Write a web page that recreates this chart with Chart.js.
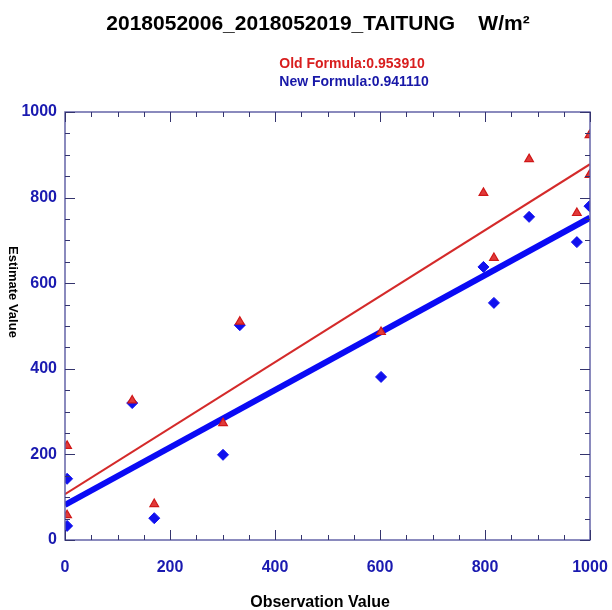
<!DOCTYPE html>
<html>
<head>
<meta charset="utf-8">
<title>TAITUNG estimate vs observation</title>
<script src="https://cdn.jsdelivr.net/npm/chart.js"></script>
<style>
	body { margin: 0; background: #fff; }
</style>
</head>
<body>
<canvas id="chart" width="612" height="610"></canvas>
<script>
// Texts
const chartTitle = '2018052006_2018052019_TAITUNG    W/m²';
const oldLabel = 'Old Formula:0.953910';
const newLabel = 'New Formula:0.941110';
const xTitle = 'Observation Value';
const yTitle = 'Estimate Value';

// Old formula points (red triangles)
const obsOld = [4, 4, 128, 170, 301, 333, 602, 797, 817, 884, 975, 999, 999];
const estOld = [220, 58, 326, 84, 273, 510, 486, 811, 659, 890, 764, 946, 853];
// New formula points (blue diamonds)
const obsNew = [4, 4, 128, 170, 301, 333, 602, 797, 817, 884, 975, 999];
const estNew = [143, 33, 320, 51, 199, 502, 381, 638, 554, 755, 696, 780];
// Fit lines, read at both ends of the axis
const fitX = [0, 1000];
const fitOld = [107, 878];
const fitNew = [82, 753];
const tickValues = [0, 200, 400, 600, 800, 1000];

const FONT = "'Liberation Sans', Arial, sans-serif";
const toXY = (xs, ys) => xs.map((v, i) => ({ x: v, y: ys[i] }));

// frame, inward ticks on all four sides, and the texts
const decor = {
	id: 'decor',
	afterDraw(chart) {
		const { ctx, chartArea: a, scales: { x, y } } = chart;
		ctx.save();
		ctx.strokeStyle = '#6464a8';
		ctx.lineWidth = 1.5;
		ctx.strokeRect(a.left, a.top, a.right - a.left, a.bottom - a.top);

		ctx.strokeStyle = '#34346e';
		ctx.lineWidth = 1;
		ctx.beginPath();
		for (let v = 0; v <= 1000; v += 50) {
			const len = tickValues.includes(v) ? 10 : 5;
			const px = Math.round(x.getPixelForValue(v)) + 0.5;
			const py = Math.round(y.getPixelForValue(v)) + 0.5;
			ctx.moveTo(px, a.bottom); ctx.lineTo(px, a.bottom - len);
			ctx.moveTo(px, a.top); ctx.lineTo(px, a.top + len);
			ctx.moveTo(a.left, py); ctx.lineTo(a.left + len, py);
			ctx.moveTo(a.right, py); ctx.lineTo(a.right - len, py);
		}
		ctx.stroke();

		ctx.textAlign = 'center';
		ctx.textBaseline = 'alphabetic';
		ctx.fillStyle = '#000';
		ctx.font = 'bold 21px ' + FONT;
		ctx.fillText(chartTitle, 318, 30);
		ctx.font = 'bold 14px ' + FONT;
		ctx.fillStyle = '#d81e1e';
		ctx.fillText(oldLabel, 352, 68);
		ctx.fillStyle = '#1818a8';
		ctx.fillText(newLabel, 354, 86);
		ctx.fillStyle = '#000';
		ctx.font = 'bold 16px ' + FONT;
		ctx.fillText(xTitle, 320, 607);

		ctx.translate(13, 292);
		ctx.rotate(Math.PI / 2);
		ctx.textBaseline = 'middle';
		ctx.font = 'bold 13px ' + FONT;
		ctx.fillText(yTitle, 0, 0);
		ctx.restore();
	}
};

const tickFont = { family: FONT, size: 16, weight: 'bold' };

new Chart(document.getElementById('chart'), {
	type: 'scatter',
	data: {
		datasets: [
			{
				label: 'new fit',
				data: toXY(fitX, fitNew),
				showLine: true,
				borderColor: '#0a0af5',
				borderWidth: 6,
				pointRadius: 0,
				clip: 0,
				order: 4
			},
			{
				label: newLabel,
				data: toXY(obsNew, estNew),
				pointStyle: 'rectRot',
				pointRadius: 5.5,
				backgroundColor: '#1010ee',
				borderColor: '#1010ee',
				borderWidth: 1,
				clip: 0,
				order: 3
			},
			{
				label: 'old fit',
				data: toXY(fitX, fitOld),
				showLine: true,
				borderColor: '#d42a2a',
				borderWidth: 2,
				pointRadius: 0,
				clip: 0,
				order: 2
			},
			{
				label: oldLabel,
				data: toXY(obsOld, estOld),
				pointStyle: 'triangle',
				pointRadius: 5,
				backgroundColor: '#e03a3a',
				borderColor: '#d01818',
				borderWidth: 1.2,
				clip: 0,
				order: 1
			}
		]
	},
	options: {
		responsive: false,
		animation: false,
		layout: { padding: { top: 112, right: 22, left: 0, bottom: 0 } },
		plugins: {
			legend: { display: false },
			tooltip: { enabled: false }
		},
		scales: {
			x: {
				type: 'linear',
				min: 0,
				max: 1000,
				afterFit(s) { s.height = 70; s.paddingLeft = 0; s.paddingRight = 0; },
				grid: { display: false, drawTicks: false },
				border: { display: false },
				ticks: {
					stepSize: 200,
					padding: 18,
					color: '#1a1ab0',
					font: tickFont,
					maxRotation: 0,
					autoSkip: false,
					callback: v => String(v)
				}
			},
			y: {
				type: 'linear',
				min: 0,
				max: 1000,
				afterFit(s) { s.width = 65; s.paddingTop = 0; s.paddingBottom = 0; },
				grid: { display: false, drawTicks: false },
				border: { display: false },
				ticks: {
					stepSize: 200,
					padding: 8,
					color: '#1a1ab0',
					font: tickFont,
					autoSkip: false,
					callback: v => String(v)
				}
			}
		}
	},
	plugins: [decor]
});
</script>
</body>
</html>
